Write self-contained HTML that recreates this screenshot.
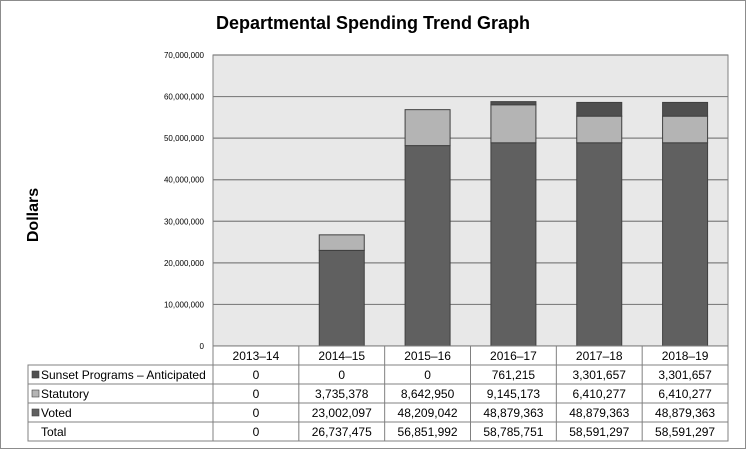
<!DOCTYPE html>
<html><head><meta charset="utf-8"><style>
body{margin:0;background:#fff;font-family:"Liberation Sans",Arial,sans-serif}
#wrap{position:relative;width:746px;height:449px;overflow:hidden}
svg text{font-family:"Liberation Sans",Arial,sans-serif}
</style></head><body>
<div id="wrap">
<svg id="chart" width="746" height="449"></svg>
</div>
<script>
const categories=["2013–14","2014–15","2015–16","2016–17","2017–18","2018–19"];
const voted=[0,23002097,48209042,48879363,48879363,48879363];
const statutory=[0,3735378,8642950,9145173,6410277,6410277];
const sunset=[0,0,0,761215,3301657,3301657];
const totals=[0,26737475,56851992,58785751,58591297,58591297];
const yTicks=[0,10000000,20000000,30000000,40000000,50000000,60000000,70000000];
const yMax=70000000;

const NS="http://www.w3.org/2000/svg";
const svg=document.getElementById('chart');
const PL=213,PR=728,PT=55,PB=346,rowH=19;
const cw=(PR-PL)/categories.length;
const y=v=>PB-(v/yMax)*(PB-PT);
const xc=i=>PL+cw*i+cw/2;
function el(tag,attrs,txt){const e=document.createElementNS(NS,tag);for(const k in attrs)e.setAttribute(k,attrs[k]);if(txt!==undefined)e.textContent=txt;svg.appendChild(e);return e;}
const fmt=n=>n.toLocaleString('en-US');

let e=el('rect',{x:0.5,y:0.5,width:745,height:448,fill:'#fff',stroke:'#8c8c8c'});


e=el('text',{x:373,y:29,'text-anchor':'middle','font-size':18,'font-weight':'bold',fill:'#000'},'Departmental Spending Trend Graph');


e=el('text',{x:38,y:215,'text-anchor':'middle','font-size':16,'font-weight':'bold',fill:'#000',transform:'rotate(-90 38 215)'},'Dollars');


e=el('rect',{x:PL,y:PT,width:PR-PL,height:PB-PT,fill:'#e8e8e8',stroke:'#808080'});


yTicks.forEach(t=>{
  const g=el('line',{x1:PL,x2:PR,y1:y(t),y2:y(t),stroke:'#808080','stroke-width':1.2});
  
  
  const l=el('text',{x:204,y:y(t)+3,'text-anchor':'end','font-size':8,fill:'#000'},fmt(t));
  
  
});
const series=[[voted,'#606060','bar-voted'],[statutory,'#b4b4b4','bar-statutory'],[sunset,'#4f4f4f','bar-sunset']];
categories.forEach((c,i)=>{
  let base=0;
  series.forEach(([arr,col,nm])=>{
    const v=arr[i];if(v<=0)return;
    const r=el('rect',{x:xc(i)-22.5,y:y(base+v),width:45,height:y(base)-y(base+v),fill:col,stroke:'#404040','stroke-width':1});
    
    
    base+=v;
  });
});
// table
const TL=28,TT=PB;
const rows=[['Sunset Programs – Anticipated',sunset,'#4f4f4f'],['Statutory',statutory,'#b4b4b4'],['Voted',voted,'#606060'],['Total',totals,null]];
const tb=PB+rowH*5;
e=el('rect',{x:PL,y:TT,width:PR-PL,height:rowH,fill:'#fff',stroke:'#808080'});


e=el('rect',{x:TL,y:TT+rowH,width:PR-TL,height:rowH*4,fill:'#fff',stroke:'#808080'});


for(let r=1;r<4;r++){const ln=el('line',{x1:TL,x2:PR,y1:TT+rowH*(r+1),y2:TT+rowH*(r+1),stroke:'#808080'});}
for(let c=0;c<=categories.length;c++){const ln=el('line',{x1:PL+cw*c,x2:PL+cw*c,y1:TT,y2:tb,stroke:'#808080'});}
categories.forEach((c,i)=>{const t=el('text',{x:xc(i),y:TT+14,'text-anchor':'middle','font-size':12,fill:'#000'},c);});
rows.forEach(([name,arr,col],r)=>{
  const ry=TT+rowH*(r+1);
  if(col){const s=el('rect',{x:32,y:ry+6,width:7,height:7,fill:col,stroke:'#404040','stroke-width':0.6});}
  const t=el('text',{x:41,y:ry+14,'font-size':12,fill:'#000'},name);
  
  
  arr.forEach((v,i)=>{const c=el('text',{x:xc(i),y:ry+14,'text-anchor':'middle','font-size':12,fill:'#000'},fmt(v));});
});
</script>
</body></html>
